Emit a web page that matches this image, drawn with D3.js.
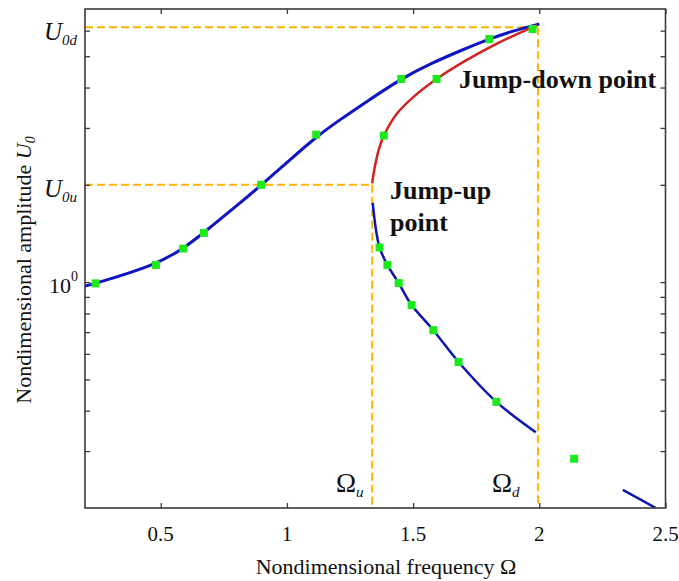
<!DOCTYPE html>
<html>
<head>
<meta charset="utf-8">
<script src="https://cdn.jsdelivr.net/npm/d3@7"></script>
<style>
body { margin: 0; background: #fff; }
text { font-family: "Liberation Serif", "Times New Roman", serif; fill: #111; }
</style>
</head>
<body>
<svg id="viz" width="679" height="581"></svg>
<script>
// stable upper branch (blue)
var upperX = [0.20, 0.24, 0.48, 0.59, 0.67, 0.80, 0.90, 1.02, 1.12, 1.21, 1.30, 1.45, 1.57, 1.70, 1.80, 1.90, 2.00];
var upperY = [0.972, 0.99, 1.13, 1.27, 1.42, 1.72, 2.0, 2.42, 2.83, 3.18, 3.55, 4.25, 4.75, 5.25, 5.65, 6.0, 6.29];
// unstable branch (red)
var redX = [1.338, 1.344, 1.364, 1.384, 1.437, 1.503, 1.593, 1.701, 1.834, 1.992];
var redY = [2.02, 2.18, 2.57, 2.84, 3.33, 3.75, 4.25, 4.81, 5.48, 6.24];
// stable lower branch (blue)
var lowerX = [1.340, 1.353, 1.367, 1.398, 1.443, 1.494, 1.580, 1.680, 1.830, 1.986];
var lowerY = [1.76, 1.45, 1.28, 1.13, 0.993, 0.849, 0.710, 0.566, 0.426, 0.343];
var tailX = [2.331, 2.462];
var tailY = [0.2275, 0.2];
// numerical points (green squares)
var ptsX = [0.242, 0.481, 0.589, 0.671, 0.898, 1.116, 1.453, 1.802, 1.973, 1.384, 1.593, 1.367, 1.398, 1.443, 1.494, 1.580, 1.680, 1.830, 2.138];
var ptsY = [0.991, 1.13, 1.27, 1.42, 2.0, 2.86, 4.25, 5.65, 6.07, 2.84, 4.25, 1.28, 1.13, 0.993, 0.849, 0.710, 0.566, 0.426, 0.284];

var xTicks = [0.5, 1, 1.5, 2, 2.5];
var xTickLabels = ["0.5", "1", "1.5", "2", "2.5"];
var yTicks = [0.3, 0.4, 0.5, 0.6, 0.7, 0.8, 0.9, 1, 2, 3, 4, 5, 6];

var omegaU = 1.338, omegaD = 1.995;
var U0u = 2.0, U0d = 6.15;

var svg = d3.select("#viz");
var pLeft = 85, pRight = 665.5, pTop = 9, pBottom = 508;

var x = d3.scaleLinear().domain([0.2, 2.5]).range([pLeft, pRight]);
var y = d3.scaleLog().domain([0.2, 7]).range([pBottom, pTop]);

svg.append("clipPath").attr("id", "clip")
  .append("rect").attr("x", pLeft).attr("y", pTop).attr("width", pRight - pLeft).attr("height", pBottom - pTop);

var plot = svg.append("g").attr("clip-path", "url(#clip)");

// dashed guides
var orange = "#ffb400";
function dash(x1, y1, x2, y2) {
  plot.append("line")
    .attr("x1", x1).attr("y1", y1).attr("x2", x2).attr("y2", y2)
    .style("stroke", orange).style("stroke-width", 2).style("stroke-dasharray", "8,4");
}
dash(x(0.2), y(U0d), x(omegaD), y(U0d));
dash(x(0.2), y(U0u), x(omegaU), y(U0u));
dash(x(omegaU), y(U0u), x(omegaU), pBottom);
dash(x(omegaD), y(U0d), x(omegaD), pBottom);

var smooth = d3.line()
  .x(function(d) { return x(d[0]); })
  .y(function(d) { return y(d[1]); })
  .curve(d3.curveBasis);
var line = d3.line()
  .x(function(d) { return x(d[0]); })
  .y(function(d) { return y(d[1]); })
  .curve(d3.curveCatmullRom);

function pairs(a, b) { return a.map(function(v, i) { return [v, b[i]]; }); }

plot.append("path").datum(pairs(upperX, upperY)).attr("d", smooth)
  .style("fill", "none").style("stroke", "#0f14c4").style("stroke-width", 3);
plot.append("path").datum(pairs(redX, redY)).attr("d", line)
  .style("fill", "none").style("stroke", "#d42222").style("stroke-width", 2.5);
plot.append("path").datum(pairs(lowerX, lowerY)).attr("d", line)
  .style("fill", "none").style("stroke", "#0f14b4").style("stroke-width", 2.5);
plot.append("path").datum(pairs(tailX, tailY)).attr("d", line)
  .style("fill", "none").style("stroke", "#0f14b4").style("stroke-width", 2.5);

plot.selectAll("rect.pt")
  .data(pairs(ptsX, ptsY))
  .enter()
  .append("rect")
  .classed("pt", true)
  .attr("x", function(d) { return x(d[0]) - 4; })
  .attr("y", function(d) { return y(d[1]) - 4; })
  .attr("width", 8).attr("height", 8)
  .style("fill", "#1ee81e");

// axes box and inward ticks
var axisColor = "#3a3a3a";
svg.append("g").attr("transform", "translate(0," + pBottom + ")")
  .call(d3.axisBottom(x).tickValues(xTicks).tickSize(-5).tickFormat(""));
svg.append("g").attr("transform", "translate(0," + pTop + ")")
  .call(d3.axisTop(x).tickValues(xTicks).tickSize(-5).tickFormat(""));
svg.append("g").attr("transform", "translate(" + pLeft + ",0)")
  .call(d3.axisLeft(y).tickValues(yTicks).tickSize(-5).tickFormat(""));
svg.append("g").attr("transform", "translate(" + pRight + ",0)")
  .call(d3.axisRight(y).tickValues(yTicks).tickSize(-5).tickFormat(""));
svg.selectAll(".domain").remove();
svg.selectAll(".tick line").style("stroke", axisColor).style("stroke-width", 1.3);
svg.append("rect").attr("x", pLeft).attr("y", pTop).attr("width", pRight - pLeft).attr("height", pBottom - pTop)
  .style("fill", "none").style("stroke", axisColor).style("stroke-width", 1.6);

// tick labels
svg.selectAll("text.xl")
  .data(xTicks)
  .enter()
  .append("text")
  .classed("xl", true)
  .attr("x", function(d) { return x(d); })
  .attr("y", 541)
  .attr("text-anchor", "middle")
  .style("font-size", "21px")
  .text(function(d, i) { return xTickLabels[i]; });

var t10 = svg.append("text").attr("x", 78).attr("y", y(1) + 11).attr("text-anchor", "end").style("font-size", "22px");
t10.append("tspan").text("10");
t10.append("tspan").attr("dy", -12).style("font-size", "14px").text("0");

function subLabel(px, py, main, sub, italicMain, size) {
  var t = svg.append("text").attr("x", px).attr("y", py).style("font-size", size + "px");
  t.append("tspan").style("font-style", italicMain ? "italic" : "normal").text(main);
  t.append("tspan").attr("dy", 5).style("font-size", "15px").style("font-style", "italic").text(sub);
  return t;
}
subLabel(44, y(U0d) + 13, "U", "0d", true, 25);
subLabel(44, y(U0u) + 12, "U", "0u", true, 25);
subLabel(336, 492, "\u03A9", "u", false, 27);
subLabel(492, 492, "\u03A9", "d", false, 27);

// annotations
svg.append("text").attr("x", 459).attr("y", 88)
  .style("font-size", "26px").style("font-weight", "bold").text("Jump-down point");
svg.append("text").attr("x", 390).attr("y", 199)
  .style("font-size", "26px").style("font-weight", "bold").text("Jump-up");
svg.append("text").attr("x", 390).attr("y", 231)
  .style("font-size", "26px").style("font-weight", "bold").text("point");

// axis titles
var xt = svg.append("text").attr("x", 386).attr("y", 574).attr("text-anchor", "middle").style("font-size", "22px");
xt.append("tspan").text("Nondimensional frequency \u03A9");

var yt = svg.append("text").attr("transform", "translate(31,270) rotate(-90)").attr("text-anchor", "middle").style("font-size", "22px");
yt.append("tspan").text("Nondimensional amplitude ");
yt.append("tspan").style("font-style", "italic").text("U");
yt.append("tspan").attr("dy", 4).style("font-size", "14px").style("font-style", "italic").text("0");
</script>
</body>
</html>
